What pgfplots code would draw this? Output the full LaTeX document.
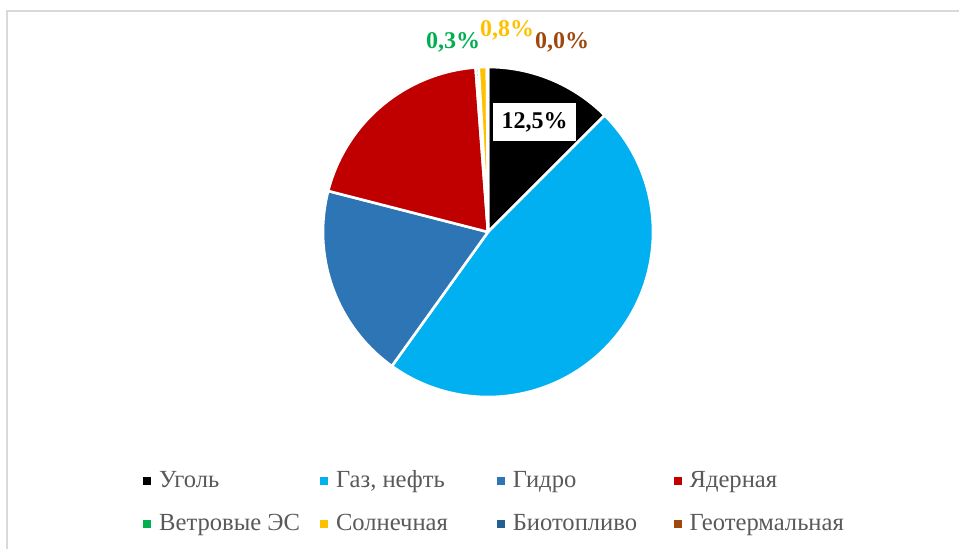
\documentclass[border=0pt]{standalone}
\usepackage{pgfplots}
\pgfplotsset{compat=1.18}
\usepackage{pgfplotstable}
\usepackage{fontspec}
\setmainfont{Liberation Serif}

\definecolor{pie0}{HTML}{000000}
\definecolor{pie1}{HTML}{00B0F0}
\definecolor{pie2}{HTML}{2E75B6}
\definecolor{pie3}{HTML}{C00000}
\definecolor{pie4}{HTML}{00B050}
\definecolor{pie5}{HTML}{FFC000}
\definecolor{pie6}{HTML}{255E91}
\definecolor{pie7}{HTML}{9E480E}
\definecolor{legtext}{HTML}{595959}
\definecolor{frame}{HTML}{D9D9D9}

% shares in %, clockwise from 12 o'clock
\pgfplotstableread{
share
12.5
47.4
19.1
19.8
0.3
0.8
0.1
0.0
}\piedata

\newcommand{\lbl}{\fontsize{12}{14}\selectfont\bfseries}
\newcommand{\entry}[1]{\makebox[80.5pt][l]{\hspace{2pt}#1}}

\begin{document}
\begin{tikzpicture}
\begin{axis}[
    x=0.5pt, y=0.5pt,
    xmin=0, xmax=959, ymin=0, ymax=548,
    y dir=reverse,
    hide axis,
    clip=false,
    legend columns=4,
    legend image code/.code={\fill[#1] (0pt,-1.75pt) rectangle (3.5pt,1.75pt);},
    legend style={
        at={(axis cs:137,502)}, anchor=west,
        draw=none, fill=none,
        font=\fontsize{12.3}{14}\selectfont,
        text=legtext,
        row sep=7.5pt,
        cells={anchor=west},
    },
]
\draw[frame, line width=1pt] (axis cs:7,560) -- (axis cs:7,11) -- (axis cs:970,11);

\gdef\cum{0}
\pgfplotsinvokeforeach{0,...,7}{
    \pgfplotstablegetelem{#1}{share}\of\piedata
    \pgfmathsetmacro{\a}{90-3.6*\cum}
    \pgfmathsetmacro{\b}{90-3.6*(\cum+\pgfplotsretval)}
    \pgfmathsetmacro{\newcum}{\cum+\pgfplotsretval}
    \global\let\cum\newcum
    \edef\temp{\noexpand\fill[pie#1, draw=white, line width=1.3pt, line join=round]
        (axis cs:488,232) -- ++(\a:82.5pt) arc[start angle=\a, end angle=\b, radius=82.5pt] -- cycle;}
    \temp
}

\node[fill=white, text=black, inner sep=0pt, minimum width=41.5pt, minimum height=19pt, font=\lbl] at (axis cs:534.5,122) {12,5\%};
\node[text=pie4, inner sep=0pt, font=\lbl] at (axis cs:453,42) {0,3\%};
\node[text=pie5, inner sep=0pt, font=\lbl] at (axis cs:507,30) {0,8\%};
\node[text=pie7, inner sep=0pt, font=\lbl] at (axis cs:562,42) {0,0\%};

\addlegendimage{pie0}\addlegendentry{\entry{Уголь}}
\addlegendimage{pie1}\addlegendentry{\entry{Газ, нефть}}
\addlegendimage{pie2}\addlegendentry{\entry{Гидро}}
\addlegendimage{pie3}\addlegendentry{\entry{Ядерная}}
\addlegendimage{pie4}\addlegendentry{\entry{Ветровые ЭС}}
\addlegendimage{pie5}\addlegendentry{\entry{Солнечная}}
\addlegendimage{pie6}\addlegendentry{\entry{Биотопливо}}
\addlegendimage{pie7}\addlegendentry{\entry{Геотермальная}}
\end{axis}
\pgfresetboundingbox
\useasboundingbox (0,0) rectangle (479.5pt,274pt);
\end{tikzpicture}
\end{document}
